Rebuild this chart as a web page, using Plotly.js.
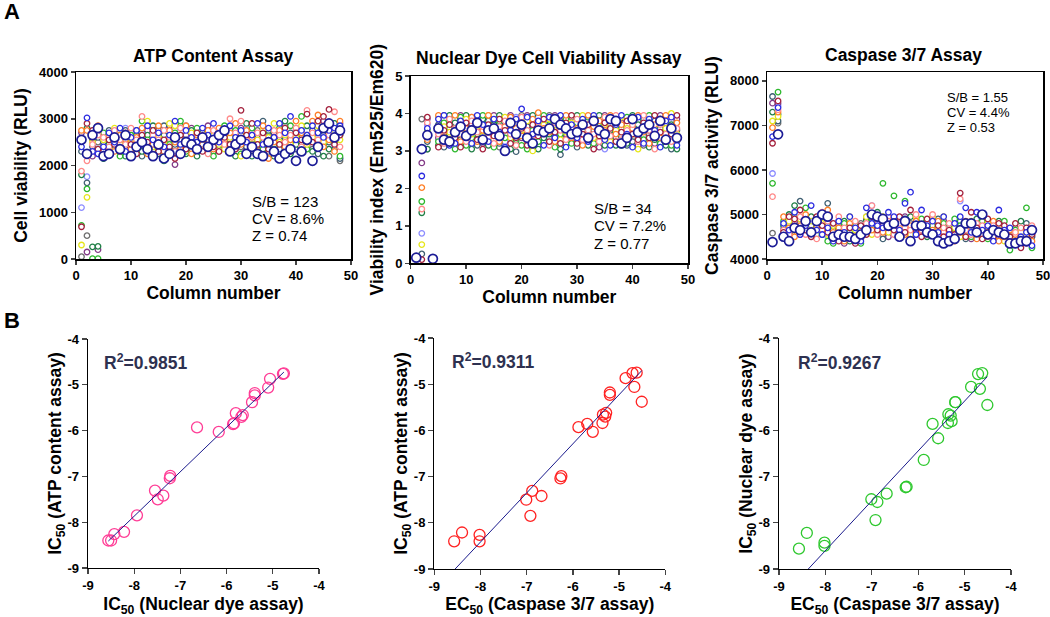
<!DOCTYPE html>
<html><head><meta charset="utf-8">
<script src="https://cdn.plot.ly/plotly-3.0.1.min.js"></script>
<style>html,body{margin:0;padding:0;background:#fff}#chart{width:1050px;height:617px}</style>
</head><body><div id="chart"></div>
<script>
// ---------- DATA ----------
const columnNumber=[1,2,3,4,5,6,7,8,9,10,11,12,13,14,15,16,17,18,19,20,21,22,23,24,25,26,27,28,29,30,31,32,33,34,35,36,37,38,39,40,41,42,43,44,45,46,47,48];
const plateRows=['Row 1','Row 2','Row 3','Row 4','Row 5','Row 6','Row 7','Row 8','Row 9','Row 10','Row 11','Row 12'];
const rowColors=['#1c1c96','#2a2ae0','#a3203c','#ff8a8a','#ff7f27','#e6e619','#2db82d','#1f7f45','#3f5f72','#823a86','#6e6e6e','#8c8cff'];

const atpRLU=[
[2550,2250,2650,2800,2200,2250,2600,2350,2650,2200,2400,2500,2350,2200,2450,2150,2250,2600,2250,2500,2450,2350,2600,2400,2550,2650,2750,2300,2450,2550,2250,2400,2250,2200,2500,2300,2150,2250,2350,2100,2300,2550,2100,2400,2800,2900,2600,2750],
[2400,3020,2300,2250,2400,2700,2500,2800,2300,2600,2750,2450,2850,2550,2700,2400,2650,2950,2450,2750,2600,2500,2800,2650,2900,2500,2700,2850,2600,2750,2500,2650,2900,2450,2800,2600,2900,2700,3050,2550,2750,2650,2850,2700,2600,2750,2800,2850],
[690,2900,2750,2350,2300,2550,2450,2300,2700,2450,2250,2650,2500,2750,2300,2550,2400,2150,2650,2350,2500,2700,2300,2550,2400,2300,2600,2450,2350,3180,2650,2900,2450,2700,2350,2600,2450,2800,2300,2700,2550,3100,2500,2950,3050,3200,2450,2650],
[1880,2100,2450,2650,2600,2400,2750,2550,2450,2800,2550,3050,2400,2650,2550,2750,2600,2300,2800,2450,2600,2350,2650,2250,2750,2600,2450,3000,2700,2950,2550,2350,2700,2600,2450,2750,2650,2500,2650,2800,2400,3180,2700,2550,2850,2650,3150,2400],
[2750,2750,2600,2850,2350,2600,2300,2650,2550,2350,2600,2800,2250,2450,2850,2300,2750,2500,2350,2850,2250,2650,2450,2750,2350,2800,2550,2700,2900,2450,2750,2600,2300,2850,2150,2500,2750,2400,2550,2950,2700,2500,2950,3080,2400,2550,2300,2950],
[300,1320,2500,2700,2550,2350,2800,2450,2600,2500,2350,2550,2950,2400,2600,2500,2900,2850,2550,2400,2700,2450,2550,2350,2650,2450,2350,2600,2500,2200,2650,2450,2550,2750,2600,2900,2500,2650,2450,2600,2850,2450,2600,2850,2500,2650,2700,2550],
[720,1500,10,10,2700,2250,2550,2200,2500,2650,2450,2950,2550,2300,2400,2100,2450,2700,2950,2300,2450,2800,2350,2450,2200,2550,2850,2400,2750,2250,2550,2800,2450,2350,2600,2450,2800,2300,2850,2600,3050,2350,2550,2400,2450,2750,2500,2200],
[1800,2800,260,270,2150,2450,2350,2650,2200,2550,2750,2300,2650,2850,2250,2650,2400,2550,2850,2250,2750,2200,2700,2600,2300,2350,2650,2550,2200,2500,2900,2200,2650,2500,2750,2200,2550,2950,2250,2450,2650,2850,2300,2700,2200,2350,2900,2650],
[2300,1630,2400,2600,2500,2750,2450,2400,2750,2300,2650,2200,2450,2600,2750,2850,2300,2450,2650,2550,2350,2600,2500,2300,2650,2750,2400,2300,2550,2650,2400,2550,2350,2950,2400,2700,2350,2550,2700,2350,2500,2650,2750,2250,2650,2500,2350,2150],
[2700,150,2200,200,2600,2350,2650,2500,2350,2750,2500,2350,2750,2500,2650,2450,2850,2020,2400,2650,2800,2550,2400,2850,2450,2300,2500,2750,2450,2800,2350,2750,2600,2450,2650,2350,2450,2850,2600,2500,2350,2450,2650,2500,2950,2850,2600,2900],
[50,500,2550,2500,2450,2600,2400,2750,2500,2350,2650,2450,2350,2650,2450,2600,2550,2400,2300,2650,2550,2400,2650,2500,2450,2700,2500,2350,2650,2400,2600,2500,2750,2550,2300,2650,2600,2450,2550,2700,2450,2600,2350,2500,2750,2200,2650,2100],
[1100,1760,2700,2400,2650,2550,2600,2300,2800,2600,2450,2700,2550,2400,2500,2650,2350,2750,2600,2850,2700,2300,2750,2550,2500,2650,2400,2650,2350,2550,2800,2300,2500,2650,2550,2450,2700,2600,2400,2750,2600,2750,2450,2650,2550,2450,2500,2150]
];
const viabilityIndex=[
[0.15,3.05,3.42,0.12,3.6,3.3,3.25,3.5,3.65,3.4,3.55,3.75,3.3,3.55,3.6,3.4,3.0,3.75,3.45,3.7,3.35,3.2,3.55,3.5,3.6,3.85,3.7,3.6,3.45,3.5,3.7,3.35,3.8,3.55,3.45,3.85,3.8,3.2,3.35,3.85,3.5,3.6,3.7,3.4,3.8,3.3,3.6,3.35],
[null,2.33,3.6,null,3.85,3.95,3.15,3.2,3.8,3.45,3.2,3.95,3.7,3.25,3.85,3.5,3.1,3.55,3.85,4.12,3.9,3.45,3.8,3.15,3.9,3.35,3.95,3.1,3.7,3.35,3.85,3.25,3.95,3.6,3.3,3.15,3.7,3.95,3.45,3.1,3.9,3.2,3.85,3.55,3.1,3.8,3.9,3.15],
[null,0.1,3.9,null,3.1,3.55,3.7,3.35,3.1,3.75,3.6,3.3,3.05,3.7,3.4,3.85,3.55,3.2,3.35,3.6,3.15,3.7,3.4,3.85,3.25,3.5,3.2,3.75,3.95,3.2,3.45,3.7,3.05,3.4,3.75,3.6,3.25,3.5,3.8,3.45,3.3,3.75,3.35,3.95,3.5,3.25,3.45,3.95],
[null,1.45,3.75,null,3.45,3.2,3.85,3.6,3.45,3.25,3.8,3.5,3.65,3.35,3.2,3.65,3.8,3.45,3.15,3.9,3.55,3.3,3.65,3.45,3.15,3.75,3.55,3.3,3.6,3.85,3.3,3.55,3.45,3.25,3.9,3.4,3.95,3.3,3.55,3.7,3.25,3.95,3.55,3.05,3.7,3.45,3.25,3.6],
[null,2.02,3.3,null,3.95,3.5,3.3,3.95,3.25,3.6,3.9,3.25,3.55,3.95,3.5,3.25,3.65,3.9,3.6,3.4,3.25,3.85,4.02,3.6,3.5,3.25,3.7,3.95,3.35,3.6,3.15,3.95,3.65,3.8,3.55,3.95,3.45,3.7,3.3,3.6,3.95,3.5,3.2,3.7,3.35,3.95,3.55,3.75],
[null,0.5,3.5,null,3.9,3.65,3.5,3.3,3.55,3.85,3.45,3.65,3.4,3.95,3.3,3.55,3.9,3.35,3.7,3.55,3.8,3.0,3.45,3.7,3.85,3.55,3.3,3.5,3.75,3.45,3.95,3.6,3.35,3.5,3.7,3.25,3.55,3.9,3.6,3.45,3.05,3.55,3.75,3.5,3.4,3.6,4.0,3.45],
[null,1.65,3.55,null,3.25,3.75,3.6,3.05,3.9,3.15,3.35,3.75,3.95,3.6,3.1,3.8,3.35,3.65,3.3,3.15,3.05,3.55,3.25,3.95,3.7,3.1,3.45,3.85,3.2,3.75,3.55,3.9,3.2,3.75,3.6,3.3,3.65,3.15,3.9,3.75,3.5,3.3,3.95,3.65,3.2,3.5,3.15,3.3],
[null,1.35,3.05,null,3.15,3.4,3.95,3.75,3.3,3.95,3.05,3.45,3.85,3.15,3.7,3.95,3.45,3.05,3.55,3.8,3.45,3.95,3.05,3.35,3.45,3.65,3.05,3.2,3.55,3.95,3.65,3.15,3.55,3.95,3.15,3.55,3.15,3.4,3.2,3.95,3.7,3.85,3.1,3.3,3.85,3.15,3.7,3.05],
[null,0.25,3.25,null,3.7,3.1,3.45,3.85,3.2,3.55,3.7,3.15,3.5,3.8,3.55,3.2,3.75,3.85,2.98,3.45,3.65,3.4,3.7,3.25,3.55,3.45,2.9,3.65,3.4,3.1,3.75,3.45,3.25,3.65,3.35,3.7,3.5,3.6,3.15,3.25,3.6,3.4,3.55,3.8,3.6,3.35,3.05,3.55],
[null,2.68,3.85,null,3.35,3.85,3.2,3.45,3.95,3.3,3.65,3.55,3.2,3.45,3.95,3.35,3.5,3.95,3.75,3.35,3.95,3.6,3.15,3.55,3.35,3.95,3.8,3.45,3.3,3.65,3.45,3.8,3.6,3.1,3.95,3.5,3.35,3.75,3.45,3.55,3.15,3.65,3.45,3.2,3.95,3.55,3.35,3.85],
[null,3.85,3.05,null,3.55,3.95,3.75,3.65,3.4,3.7,3.15,3.9,3.75,3.3,3.75,3.1,3.6,3.5,3.25,3.95,3.5,3.8,3.6,3.4,3.95,3.7,3.6,3.4,3.9,3.25,3.6,3.3,3.85,3.3,3.8,3.45,3.9,3.55,3.7,3.35,3.8,3.15,3.65,3.45,3.55,3.75,3.8,3.25],
[null,0.8,3.7,null,3.3,3.25,3.65,3.15,3.7,3.55,3.9,3.35,3.6,3.85,3.45,3.7,3.25,3.6,3.9,3.65,3.3,3.15,3.9,3.75,3.3,3.8,3.5,3.25,3.65,3.4,3.25,3.65,3.75,3.45,3.05,3.75,3.6,3.25,3.5,3.65,3.4,3.7,3.3,3.6,3.15,3.7,3.5,3.4]
];
const caspaseRLU=[
[4380,6800,4500,4400,4700,4650,4850,4600,4850,5000,4950,4500,4550,4500,4500,4450,4550,4650,5000,4950,4900,4750,4800,4500,4850,4400,4750,4750,4600,4550,4400,4350,4400,4450,4650,4800,4800,4600,5000,4550,4650,4600,4550,4350,4350,4400,4400,4650],
[6750,7400,4800,4650,5050,4550,4750,5200,4650,4550,4700,4400,4850,4600,4950,4700,4400,5150,4800,4750,4700,5050,4950,4650,5250,5500,4550,5100,4750,4850,4600,4950,4550,4800,4950,5150,4600,5050,4650,4750,4400,5100,4650,4700,4400,4500,4600,4300],
[6600,7550,4600,4950,4900,5100,4650,4500,4950,4750,4600,4800,4400,4550,4700,4350,4750,4550,4950,4650,4800,4700,4650,4950,4600,5100,4650,4500,4900,4600,4750,4500,4650,4550,5480,4500,5050,4700,4450,4900,4500,4800,4750,4500,4800,4250,4700,4550],
[5400,7350,4650,4550,4750,4950,4550,4650,4450,5050,4850,4500,4950,4700,4450,4850,4550,4800,5200,4550,4900,4850,4550,4800,4700,4650,5000,4650,4550,5000,4550,4700,4800,4450,5350,4650,4550,4800,4750,4500,4750,4550,4650,4400,4600,4700,4450,4750],
[6950,7300,4950,4700,4500,4750,5000,4550,4750,4650,5100,4600,4700,4400,4800,4500,4450,4700,4650,4850,4600,4950,4700,4850,4550,4750,4850,4550,4800,4650,4850,4600,4500,4400,4600,4850,4700,4450,4650,4600,4850,4400,4500,4650,4550,4350,4650,4400],
[7100,7200,4550,4850,4650,4900,4700,4850,4650,4800,4550,4750,4600,4500,4950,4650,4700,4950,4550,4650,4950,4600,4850,4700,4750,4550,4950,4700,4650,4950,4700,4950,4600,4700,4500,4650,4850,4600,4550,4800,4450,4700,4400,4650,4500,4600,4550,4700],
[5700,7750,4850,4400,4950,4700,5150,4750,4550,4950,4400,4350,4650,4800,4600,4600,4350,4600,4900,4750,5700,4750,5420,4550,5300,4600,4700,4900,4600,4750,4650,4800,4550,4900,4750,4600,4500,4750,4850,4450,4700,4650,4850,4200,4650,4500,5150,4250],
[7300,7250,4750,5000,5200,4600,4900,4950,4800,4550,4750,4650,4500,4850,4400,4750,4650,4850,4700,5050,4750,4650,4750,4900,4650,4950,4600,4850,4500,4700,4800,4550,4700,4650,4850,4700,4650,4900,4600,4700,4550,4850,4650,4550,4700,4850,4550,4600],
[7650,7100,4650,4500,4550,5300,4600,4900,4700,4850,5250,4550,4850,4650,4750,4550,4600,4700,4600,4900,4450,4800,4600,4750,4900,4700,4800,4600,4850,4550,4900,4650,4750,4600,4700,4450,4750,4550,4700,4800,4600,4700,4500,4600,4450,4650,4800,4500],
[7500,7500,4500,4800,4850,4550,4800,4650,4900,4700,4950,4450,4750,4350,4550,4650,4500,4900,4750,4600,4650,4500,4900,4600,4950,4500,4550,4800,4700,4800,4500,4850,4650,4500,4900,4650,4450,4650,4750,4550,4650,4500,4600,4300,4600,4500,4350,4550],
[4580,7050,4600,4700,4800,4800,4950,4700,4600,4700,4650,4700,4550,4700,4650,4500,4800,4750,4850,4700,4550,4800,4650,4800,4700,4800,4700,4650,4550,4650,4600,4750,4600,4750,4650,4750,4600,4650,4550,4650,4700,4600,4700,4500,4550,4650,4500,4650],
[5920,7450,4700,4600,4600,4650,4700,4800,4750,4600,4500,4650,4800,4550,4700,4800,4650,4950,5200,4800,4850,4700,4800,4650,4800,4700,4900,4800,4700,4600,4750,4850,4700,4550,5300,4700,4750,4550,4650,4750,4550,4650,4700,4450,4550,4450,4700,4500]
];
const nuclearDyeIC50=[-8.56,-8.22,-8.43,-8.50,-7.49,-7.55,-7.94,-7.37,-7.23,-7.22,-6.64,-5.86,-6.17,-5.84,-5.65,-5.80,-5.68,-5.39,-5.39,-5.06,-4.78,-4.76,-5.10,-5.45];
const atpIC50=[-8.40,-8.21,-8.26,-8.40,-7.50,-7.31,-7.85,-7.42,-7.04,-6.99,-5.93,-5.86,-6.03,-5.84,-5.66,-5.62,-5.70,-5.23,-5.18,-4.87,-4.76,-4.75,-5.06,-5.38];
const caspaseEC50=[-8.57,-8.40,-8.02,-8.02,-7.01,-6.88,-6.92,-6.68,-6.27,-6.25,-5.88,-5.69,-5.57,-5.36,-5.35,-5.28,-5.30,-5.20,-5.20,-4.86,-4.71,-4.62,-4.67,-4.51];
const r2Values=['0.9851','0.9311','0.9267'];
const fitSlope=[0.971,1.063,1.079];
const fitIntercept=[-0.10,0.088,0.03];
const statsATP=['S/B = 123','CV = 8.6%','Z = 0.74'];
const statsNuclear=['S/B = 34','CV = 7.2%','Z = 0.77'];
const statsCaspase=['S/B = 1.55','CV = 4.4%','Z = 0.53'];
const columnTicks=[0,10,20,30,40,50];
const icTickVals=[-9,-8,-7,-6,-5,-4];
const icTickText=['-9','-8','-7','-6','-5','-4'];

const F='Liberation Sans, Arial, Helvetica, sans-serif';
const W=1050,H=617;
const px=x=>x/W, py=y=>1-y/H;
const traces=[];
function plateTraces(rows,xa,ya,clip){
  for(let r=rows.length-1;r>=0;r--){
    const big=(r===0);
    traces.push({type:'scatter',mode:'markers',x:columnNumber,y:rows[r],xaxis:xa,yaxis:ya,
      name:plateRows[r],cliponaxis:clip,hoverinfo:'skip',
      marker:{symbol:'circle',size:big?9:5.5,color:'white',line:{color:rowColors[r],width:big?1.7:1.3}}});
  }
}
plateTraces(atpRLU,'x','y',true);
plateTraces(viabilityIndex,'x2','y2',false);
plateTraces(caspaseRLU,'x3','y3',false);
function corrTraces(xs,ys,color,k,xa,ya){
  traces.push({type:'scatter',mode:'markers',x:xs,y:ys,xaxis:xa,yaxis:ya,cliponaxis:false,hoverinfo:'skip',
    marker:{symbol:'circle-open',size:11,color:color,line:{width:1.3,color:color}}});
  const x0=Math.min(...xs), x1=Math.max(...xs);
  traces.push({type:'scatter',mode:'lines',x:[x0,x1],y:[fitSlope[k]*x0+fitIntercept[k],fitSlope[k]*x1+fitIntercept[k]],
    xaxis:xa,yaxis:ya,hoverinfo:'skip',line:{color:'#1a1a8c',width:1}});
}
corrTraces(nuclearDyeIC50,atpIC50,'#ff3d96',0,'x4','y4');
corrTraces(caspaseEC50,atpIC50,'#ff2222',1,'x5','y5');
corrTraces(caspaseEC50,nuclearDyeIC50,'#2ec82e',2,'x6','y6');

const tickFont={family:F,size:13,color:'#000',weight:'bold'};
const titleFont={family:F,size:17.5,color:'#000',weight:'bold'};
function topX(d,anchor,useDtick){const o={domain:d,anchor:anchor,range:[0,50],ticks:'outside',ticklen:4,tickwidth:1.5,
  showline:true,linewidth:1.5,linecolor:'#000',mirror:true,showgrid:false,zeroline:false,tickfont:tickFont,ticklabeloverflow:'allow',
  title:{text:'Column number',font:titleFont,standoff:3}};
  if(useDtick){o.tickmode='linear';o.tick0=columnTicks[0];o.dtick=columnTicks[1]-columnTicks[0];}else{o.tickvals=columnTicks;}
  return o;}
function topY(d,anchor,range,vals,title){return {domain:d,anchor:anchor,range:range,tickvals:vals,ticks:'outside',ticklen:4,tickwidth:1.5,
  showline:true,linewidth:1.5,linecolor:'#000',mirror:true,showgrid:false,zeroline:false,tickfont:tickFont,
  title:{text:title,font:titleFont,standoff:7}};}
function botX(d,anchor,title){return {domain:d,anchor:anchor,range:[-9,-4],tickvals:icTickVals,ticktext:icTickText,ticks:'outside',ticklen:5,tickwidth:1.3,
  showline:true,linewidth:1.3,linecolor:'#000',mirror:false,showgrid:false,zeroline:false,tickfont:tickFont,ticklabeloverflow:'allow',
  title:{text:title,font:titleFont,standoff:9}};}
function botY(d,anchor,title){return {domain:d,anchor:anchor,range:[-9,-4],tickvals:icTickVals,ticktext:icTickText,ticks:'outside',ticklen:5,tickwidth:1.3,
  showline:true,linewidth:1.3,linecolor:'#000',mirror:false,showgrid:false,zeroline:false,tickfont:tickFont,
  title:{text:title,font:titleFont,standoff:1}};}
const ann=[];
function A(x,y,text,opt){ann.push(Object.assign({x:px(x),y:py(y),xref:'paper',yref:'paper',text:text,showarrow:false,
  font:{family:F,size:15,color:'#000'},xanchor:'left',yanchor:'middle'},opt||{}));}
A(2,12,'A',{font:{family:F,size:22,color:'#000',weight:'bold'}});
A(2,320,'B',{font:{family:F,size:22,color:'#000',weight:'bold'}});
A(213,56,'ATP Content Assay',{xanchor:'center',font:titleFont});
A(549,58,'Nuclear Dye Cell Viability Assay',{xanchor:'center',font:titleFont});
A(903,55,'Caspase 3/7 Assay',{xanchor:'center',font:titleFont});
[201,218,235].forEach((y,i)=>A(250,y,statsATP[i]));
[208,226,243].forEach((y,i)=>A(592,y,statsNuclear[i]));
[97,112,127].forEach((y,i)=>A(945,y,statsCaspase[i],{font:{family:F,size:13,color:'#000'}}));
const r2Font={family:F,size:17.5,color:'#2e3150',weight:'bold'};
A(102,362,'R<sup>2</sup>='+r2Values[0],{font:r2Font});
A(450,361,'R<sup>2</sup>='+r2Values[1],{font:r2Font});
A(796,362,'R<sup>2</sup>='+r2Values[2],{font:r2Font});
const layout={width:W,height:H,margin:{l:0,r:0,t:0,b:0},showlegend:false,
  font:{family:F,color:'#000'},
  xaxis:topX([px(76),px(351)],'y',false),
  yaxis:topY([py(259),py(72)],'x',[0,4000],[0,1000,2000,3000,4000],'Cell viability (RLU)'),
  xaxis2:topX([px(410.7),px(688)],'y2',false),
  yaxis2:topY([py(263.3),py(76)],'x2',[0,5],[0,1,2,3,4,5],'Viability index (Em525/Em620)'),
  xaxis3:topX([px(767),px(1043)],'y3',true),
  yaxis3:topY([py(259),py(72)],'x3',[4000,8200],[4000,5000,6000,7000,8000],'Caspase 3/7 activity (RLU)'),
  xaxis4:botX([px(88),px(319)],'y4','IC<sub>50</sub> (Nuclear dye assay)'),
  yaxis4:botY([py(568),py(339)],'x4','IC<sub>50</sub> (ATP content assay)'),
  xaxis5:botX([px(434.3),px(665.3)],'y5','EC<sub>50</sub> (Caspase 3/7 assay)'),
  yaxis5:botY([py(569),py(338)],'x5','IC<sub>50</sub> (ATP content assay)'),
  xaxis6:botX([px(779),px(1011)],'y6','EC<sub>50</sub> (Caspase 3/7 assay)'),
  yaxis6:botY([py(569),py(338)],'x6','IC<sub>50</sub> (Nuclear dye assay)'),
  annotations:ann};
Plotly.newPlot('chart',traces,layout,{staticPlot:true,displayModeBar:false});
</script></body></html>
